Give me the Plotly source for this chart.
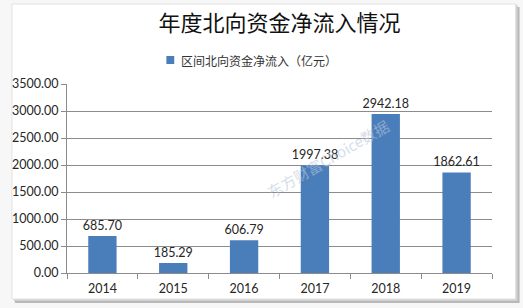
import plotly.graph_objects as go

years = ["2014", "2015", "2016", "2017", "2018", "2019"]
inflow = [685.70, 185.29, 606.79, 1997.38, 2942.18, 1862.61]
series_name = "区间北向资金净流入（亿元）"
title_text = "年度北向资金净流入情况"
watermark = "东方财富Choice数据"
bar_color = "#4a7ebb"

W, H = 523, 308
L, R, T, B = 60, 31, 84, 35
pw, ph = W - L - R, H - T - B

def fx(px):
    return (px - L) / pw

def fy(py):
    return (H - B - py) / ph

fig = go.Figure()
fig.add_trace(go.Bar(
    x=years, y=inflow, name=series_name,
    marker=dict(color=bar_color, line=dict(width=0)),
    text=[f"{v:.2f}" for v in inflow], textposition="outside",
    constraintext="none",
    textfont=dict(family="Lato, Open Sans, sans-serif", size=12.5, color="#262626"),
    cliponaxis=False, showlegend=False,
))

shapes = [
    dict(type="rect", xref="paper", yref="paper", x0=fx(7), x1=fx(520), y0=fy(303), y1=fy(7),
         fillcolor="#b8b8b8", line=dict(width=0), layer="below"),
    dict(type="rect", xref="paper", yref="paper", x0=fx(6), x1=fx(518), y0=fy(301), y1=fy(5),
         fillcolor="#d0d0d0", line=dict(width=0), layer="below"),
    dict(type="rect", xref="paper", yref="paper", x0=fx(4), x1=fx(516), y0=fy(299), y1=fy(4),
         fillcolor="white", line=dict(color="#e2e2e2", width=1), layer="below"),
    dict(type="rect", xref="paper", yref="paper", x0=fx(161), x1=fx(169), y0=fy(64), y1=fy(56),
         fillcolor=bar_color, line=dict(width=0)),
]

fig.update_layout(
    width=W, height=H,
    margin=dict(l=L, r=R, t=T, b=B),
    paper_bgcolor="#f7f7f7", plot_bgcolor="rgba(0,0,0,0)",
    bargap=0.6,
    showlegend=False,
    title=dict(text=title_text, x=0.5, xref="paper", xanchor="center", y=1 - 23 / H, yanchor="middle",
               font=dict(family="Noto Sans CJK SC", size=22, color="#111111")),
    shapes=shapes,
    xaxis=dict(type="category", showline=True, linecolor="#8c8c8c", linewidth=1,
               ticks="outside", tickson="boundaries", ticklen=5, tickcolor="#8c8c8c",
               ticklabelstandoff=4,
               tickfont=dict(family="Lato, Open Sans, sans-serif", size=12.5, color="#262626"),
               showgrid=False),
    yaxis=dict(range=[0, 3500], dtick=500, tickformat=".2f", showline=True, linecolor="#8c8c8c",
               linewidth=1, ticks="outside", ticklen=5, tickcolor="#8c8c8c",
               gridcolor="#8c8c8c", gridwidth=1, zeroline=False,
               tickfont=dict(family="Lato, Open Sans, sans-serif", size=12.5, color="#262626")),
    annotations=[
        dict(text=series_name, xref="paper", yref="paper", x=fx(174), y=fy(60),
             xanchor="left", yanchor="middle", showarrow=False,
             font=dict(family="Noto Sans CJK SC", size=12, color="#333333")),
        dict(text=watermark, xref="paper", yref="paper", x=fx(325), y=fy(158),
             showarrow=False, textangle=-30,
             font=dict(family="Noto Sans CJK SC", size=15, color="rgba(185,198,218,0.6)")),
    ],
)

fig.write_html("out.html")
